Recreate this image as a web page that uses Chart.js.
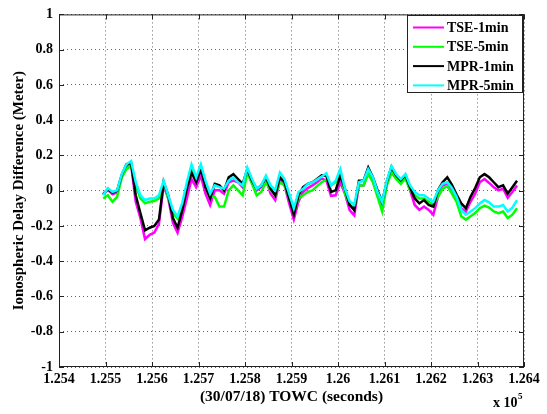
<!DOCTYPE html>
<html>
<head>
<meta charset="utf-8">
<script src="https://cdn.jsdelivr.net/npm/chart.js@4.4.1/dist/chart.umd.min.js"></script>
<style>
  body { margin: 0; background: #fff; }
  canvas { display: block; }
</style>
</head>
<body>
<canvas id="chart" width="547" height="414"></canvas>
<script>
// time of week (seconds), one sample every 10 s
const towc = [
  125495, 125505, 125515, 125525, 125535, 125545, 125555, 125565, 125575, 125585,
  125595, 125605, 125615, 125625, 125635, 125645, 125655, 125665, 125675, 125685,
  125695, 125705, 125715, 125725, 125735, 125745, 125755, 125765, 125775, 125785,
  125795, 125805, 125815, 125825, 125835, 125845, 125855, 125865, 125875, 125885,
  125895, 125905, 125915, 125925, 125935, 125945, 125955, 125965, 125975, 125985,
  125995, 126005, 126015, 126025, 126035, 126045, 126055, 126065, 126075, 126085,
  126095, 126105, 126115, 126125, 126135, 126145, 126155, 126165, 126175, 126185,
  126195, 126205, 126215, 126225, 126235, 126245, 126255, 126265, 126275, 126285,
  126295, 126305, 126315, 126325, 126335, 126345, 126355, 126365, 126375, 126385
];

const tse1min = [
  -0.020, 0.005, -0.020, -0.010, 0.080, 0.140, 0.150, -0.063, -0.155, -0.274,
  -0.250, -0.238, -0.188, 0.030, -0.044, -0.182, -0.238, -0.150, -0.044, 0.066,
  0.020, 0.085, -0.017, -0.081, 0.002, 0.002, -0.017, 0.048, 0.057, 0.048,
  0.020, 0.112, 0.048, 0.002, 0.020, 0.066, -0.017, -0.053, 0.057, 0.030,
  -0.072, -0.164, -0.063, -0.007, 0.015, 0.030, 0.048, 0.070, 0.057, -0.029,
  -0.026, 0.048, -0.017, -0.110, -0.140, 0.030, 0.030, 0.103, 0.057, -0.026,
  -0.090, 0.040, 0.120, 0.075, 0.050, 0.078, 0.002, -0.081, -0.109, -0.090,
  -0.109, -0.136, -0.035, 0.030, 0.039, 0.002, -0.048, -0.099, -0.118, -0.063,
  -0.017, 0.048, 0.066, 0.044, 0.020, 0.002, 0.011, -0.040, -0.007, 0.030
];

const tse5min = [
  -0.044, -0.026, -0.063, -0.035, 0.075, 0.122, 0.140, 0.030, -0.044, -0.072,
  -0.063, -0.059, -0.044, 0.048, -0.044, -0.127, -0.158, -0.090, 0.030, 0.131,
  0.057, 0.131, 0.030, -0.035, -0.035, -0.090, -0.090, 0.002, 0.030, 0.002,
  -0.026, 0.103, 0.039, -0.026, -0.007, 0.048, 0.002, -0.026, 0.048, 0.030,
  -0.044, -0.127, -0.044, -0.026, -0.007, 0.002, 0.026, 0.048, 0.063, 0.030,
  0.048, 0.103, -0.017, -0.080, -0.100, 0.030, 0.030, 0.094, 0.048, -0.035,
  -0.118, 0.030, 0.103, 0.066, 0.039, 0.070, 0.002, -0.026, -0.044, -0.044,
  -0.063, -0.081, -0.035, 0.011, 0.026, -0.017, -0.063, -0.145, -0.164, -0.145,
  -0.127, -0.099, -0.085, -0.096, -0.118, -0.127, -0.118, -0.155, -0.136, -0.099
];

const mpr1min = [
  -0.020, 0.010, -0.010, 0.000, 0.090, 0.150, 0.158, -0.026, -0.127, -0.225,
  -0.210, -0.200, -0.164, 0.048, -0.026, -0.155, -0.210, -0.110, 0.011, 0.103,
  0.048, 0.122, 0.020, -0.044, 0.039, 0.030, 0.002, 0.076, 0.094, 0.066,
  0.039, 0.122, 0.057, 0.011, 0.030, 0.076, 0.011, -0.026, 0.076, 0.048,
  -0.044, -0.136, -0.026, 0.020, 0.039, 0.048, 0.066, 0.088, 0.085, -0.007,
  0.002, 0.085, 0.011, -0.080, -0.110, 0.057, 0.057, 0.131, 0.076, 0.002,
  -0.063, 0.052, 0.135, 0.088, 0.060, 0.088, 0.020, -0.044, -0.072, -0.053,
  -0.081, -0.090, 0.002, 0.048, 0.076, 0.033, -0.022, -0.072, -0.099, -0.035,
  0.015, 0.076, 0.094, 0.076, 0.048, 0.020, 0.030, -0.017, 0.020, 0.057
];

const mpr5min = [
  -0.026, 0.015, -0.007, 0.002, 0.094, 0.150, 0.168, 0.048, -0.026, -0.053,
  -0.044, -0.044, -0.026, 0.057, -0.026, -0.109, -0.145, -0.070, 0.048, 0.149,
  0.076, 0.149, 0.057, -0.017, 0.030, 0.020, 0.011, 0.057, 0.076, 0.048,
  0.030, 0.131, 0.066, 0.011, 0.030, 0.085, 0.030, 0.002, 0.103, 0.066,
  -0.017, -0.099, -0.007, 0.011, 0.039, 0.048, 0.063, 0.081, 0.099, 0.030,
  0.057, 0.122, 0.011, -0.060, -0.080, 0.048, 0.057, 0.122, 0.076, -0.007,
  -0.063, 0.057, 0.140, 0.094, 0.066, 0.094, 0.030, -0.007, -0.026, -0.026,
  -0.044, -0.063, 0.002, 0.039, 0.048, 0.015, -0.035, -0.109, -0.136, -0.118,
  -0.099, -0.072, -0.053, -0.066, -0.090, -0.090, -0.081, -0.118, -0.096, -0.053
];

const seriesNames = ["TSE-1min", "TSE-5min", "MPR-1min", "MPR-5min"];
const seriesColors = ["#ff00ff", "#00ff00", "#000000", "#00ffff"];
const seriesValues = [tse1min, tse5min, mpr1min, mpr5min];

const SERIF = "'Liberation Serif', 'Times New Roman', serif";

function toPoints(values) {
  return values.map((v, i) => ({ x: towc[i], y: v }));
}

// box around the axes, inward tick marks, legend and the x10^5 exponent
const matlabFrame = {
  id: "matlabFrame",
  afterDraw(chart) {
    const { ctx, chartArea: a, scales } = chart;
    ctx.save();
    ctx.strokeStyle = "#222";
    ctx.lineWidth = 1;
    ctx.strokeRect(a.left + 0.5, a.top + 0.5, a.right - a.left - 1, a.bottom - a.top - 1);

    ctx.beginPath();
    scales.x.ticks.forEach(t => {
      const px = Math.round(scales.x.getPixelForValue(t.value)) + 0.5;
      ctx.moveTo(px, a.bottom); ctx.lineTo(px, a.bottom - 5);
      ctx.moveTo(px, a.top); ctx.lineTo(px, a.top + 5);
    });
    scales.y.ticks.forEach(t => {
      const py = Math.round(scales.y.getPixelForValue(t.value)) + 0.5;
      ctx.moveTo(a.left, py); ctx.lineTo(a.left + 5, py);
      ctx.moveTo(a.right, py); ctx.lineTo(a.right - 5, py);
    });
    ctx.stroke();

    // legend box
    const lx = 407, ly = 15, lw = 115, lh = 77;
    ctx.fillStyle = "#fff";
    ctx.fillRect(lx, ly, lw, lh);
    ctx.strokeStyle = "#222";
    ctx.strokeRect(lx + 0.5, ly + 0.5, lw, lh);
    ctx.font = "bold 14px " + SERIF;
    ctx.textBaseline = "middle";
    ctx.textAlign = "left";
    chart.data.datasets.forEach((ds, i) => {
      const y = 27.5 + i * 19.3;
      ctx.strokeStyle = ds.borderColor;
      ctx.lineWidth = 2;
      ctx.beginPath();
      ctx.moveTo(413, y); ctx.lineTo(444, y);
      ctx.stroke();
      ctx.fillStyle = "#000";
      ctx.fillText(ds.label, 447, y + 1);
    });

    // axis exponent
    ctx.fillStyle = "#000";
    ctx.textBaseline = "alphabetic";
    ctx.font = "bold 14px " + SERIF;
    ctx.fillText("x 10", 493, 407);
    ctx.font = "bold 9px " + SERIF;
    ctx.fillText("5", 518, 399);
    ctx.restore();
  }
};

const ctx = document.getElementById("chart").getContext("2d");
new Chart(ctx, {
  type: "line",
  data: {
    datasets: seriesNames.map((name, i) => ({
      label: name,
      data: toPoints(seriesValues[i]),
      borderColor: seriesColors[i],
      borderWidth: 2.5,
      pointRadius: 0,
      tension: 0,
      fill: false,
      order: 4 - i
    }))
  },
  options: {
    responsive: false,
    animation: false,
    layout: { padding: { top: 11, right: 23, left: 0, bottom: 0 } },
    plugins: {
      legend: { display: false },
      tooltip: { enabled: false }
    },
    scales: {
      x: {
        type: "linear",
        min: 125400,
        max: 126400,
        afterFit: scale => { scale.height = 47; },
        ticks: {
          stepSize: 100,
          autoSkip: false,
          maxRotation: 0,
          padding: 4,
          color: "#000",
          font: { family: SERIF, size: 14, weight: "bold" },
          callback: v => String(Math.round(v / 10) / 10000)
        },
        grid: { color: "#666", drawTicks: false },
        border: { display: false, dash: [1, 3] },
        title: {
          display: true,
          text: "(30/07/18) TOWC (seconds)",
          color: "#000",
          font: { family: SERIF, size: 15.5, weight: "bold" },
          padding: { top: 0, bottom: 8 }
        }
      },
      y: {
        min: -1,
        max: 1,
        afterFit: scale => { scale.width = 59; },
        ticks: {
          stepSize: 0.2,
          padding: 6,
          color: "#000",
          font: { family: SERIF, size: 14, weight: "bold" },
          callback: v => String(parseFloat(v.toFixed(1)))
        },
        grid: { color: "#666", drawTicks: false },
        border: { display: false, dash: [1, 3] },
        title: {
          display: true,
          text: "Ionospheric Delay Difference (Meter)",
          color: "#000",
          font: { family: SERIF, size: 15, weight: "bold" },
          padding: { top: 10, bottom: 0 }
        }
      }
    }
  },
  plugins: [matlabFrame]
});
</script>
</body>
</html>
